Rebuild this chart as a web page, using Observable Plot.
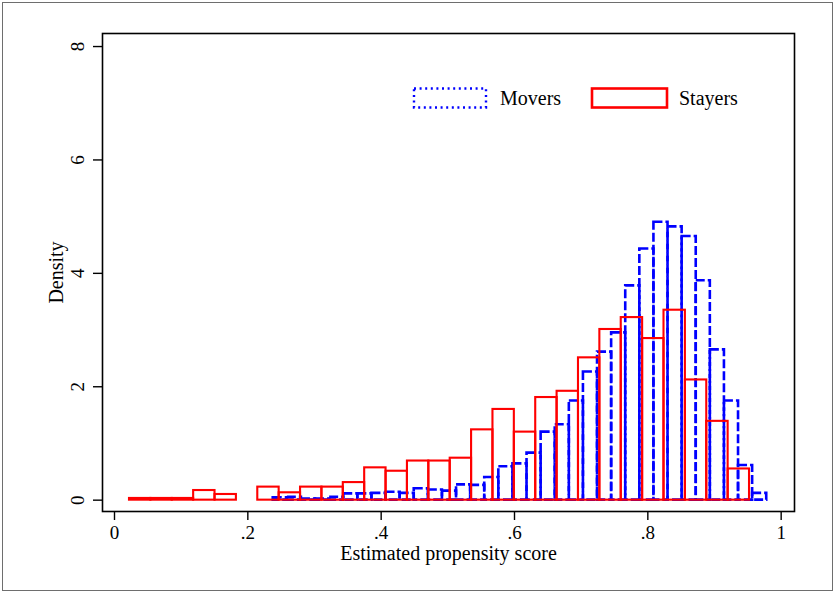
<!DOCTYPE html>
<html>
<head>
<meta charset="utf-8">
<script src="https://cdn.jsdelivr.net/npm/d3@7"></script>
<script src="https://cdn.jsdelivr.net/npm/@observablehq/plot@0.6"></script>
<style>
  html, body { margin: 0; padding: 0; background: #fff; }
  #wrap { position: relative; width: 836px; height: 593px; overflow: hidden; }
  #border { position: absolute; left: 2px; top: 2px; width: 829px; height: 587px; border: 1.6px solid #6e6e6e; pointer-events: none; }
  #legend { position: absolute; left: 0; top: 0; pointer-events: none; }
  svg text { font-family: "Liberation Serif", "Times New Roman", serif; }
</style>
</head>
<body>
<div id="wrap"><div id="border"></div></div>
<script>
// ---- data ----
const seriesNames = ["Movers", "Stayers"];
const seriesColors = ["#0000ff", "#ff0000"];

const moversBinStart = 0.2381;
const moversBinWidth = 0.02115;
const moversDensity = [0.04, 0.05, 0.02, 0.02, 0.05, 0.11, 0.11, 0.12, 0.14, 0.12,
  0.20, 0.18, 0.16, 0.27, 0.26, 0.40, 0.59, 0.64, 0.83, 1.20,
  1.33, 1.75, 2.26, 2.61, 2.95, 3.78, 4.43, 4.90, 4.82, 4.65,
  3.87, 2.65, 1.75, 0.61, 0.12];

const stayersBinStart = 0.0225;
const stayersBinWidth = 0.03207;
const stayersDensity = [0.03, 0.03, 0.03, 0.17, 0.10, 0, 0.23, 0.13, 0.23, 0.23,
  0.31, 0.57, 0.51, 0.69, 0.69, 0.74, 1.24, 1.60, 1.20, 1.81,
  1.92, 2.51, 3.01, 3.22, 2.85, 3.35, 2.12, 1.39, 0.55];

const xTicks = [0, 0.2, 0.4, 0.6, 0.8, 1];
const xTickLabels = ["0", ".2", ".4", ".6", ".8", "1"];
const yTicks = [0, 2, 4, 6, 8];
const xTitle = "Estimated propensity score";
const yTitle = "Density";

// ---- build bins ----
function bins(start, width, dens) {
  return dens.map((d, i) => ({x1: start + i * width, x2: start + (i + 1) * width, d}));
}
const movers = bins(moversBinStart, moversBinWidth, moversDensity);
const stayers = bins(stayersBinStart, stayersBinWidth, stayersDensity);

const font = "Liberation Serif";
const chart = Plot.plot({
  width: 836,
  height: 593,
  marginLeft: 102,
  marginRight: 42,
  marginTop: 33,
  marginBottom: 82,
  style: {fontFamily: font, background: "transparent"},
  x: {domain: [-0.018, 1.02]},
  y: {domain: [-0.2, 8.23]},
  marks: [
    Plot.rect(movers, {x1: "x1", x2: "x2", y1: 0, y2: "d", fill: "none",
      stroke: seriesColors[0], strokeWidth: 2.6, strokeDasharray: "9,3"}),
    Plot.rect(stayers, {x1: "x1", x2: "x2", y1: 0, y2: "d", fill: "none",
      stroke: seriesColors[1], strokeWidth: 2.1}),
    Plot.frame({stroke: "black", strokeWidth: 1.6}),
    Plot.axisX({ticks: xTicks, tickFormat: (d) => xTickLabels[xTicks.indexOf(d)],
      tickSize: 9, tickPadding: 5, fontSize: 19, label: null, stroke: "black", strokeWidth: 1.4}),
    Plot.axisY({ticks: yTicks, tickSize: 9, tickPadding: 10, tickRotate: -90,
      fontSize: 19, label: null, stroke: "black", strokeWidth: 1.4}),
    Plot.text([xTitle], {frameAnchor: "bottom", dy: 42, lineAnchor: "middle", textAnchor: "middle",
      fontSize: 20, fill: "black", text: d => d}),
    Plot.text([yTitle], {frameAnchor: "left", dx: -46, rotate: -90, lineAnchor: "middle", textAnchor: "middle",
      fontSize: 20, fill: "black", text: d => d})
  ]
});
document.getElementById("wrap").prepend(chart);

// ---- legend (inside plot region, upper right) ----
const leg = d3.select("#wrap").append("svg")
  .attr("id", "legend").attr("width", 836).attr("height", 593);
const items = [
  {x: 414, w: 72, dash: "2,3.6", sw: 2.4, tx: 500},
  {x: 592, w: 75, dash: null, sw: 2.6, tx: 679}
];
items.forEach((it, i) => {
  leg.append("rect").attr("x", it.x).attr("y", 88.5).attr("width", it.w).attr("height", 19)
    .attr("fill", "none").attr("stroke", seriesColors[i]).attr("stroke-width", it.sw)
    .attr("stroke-dasharray", it.dash);
  leg.append("text").attr("x", it.tx).attr("y", 98).attr("dy", "0.35em")
    .attr("font-size", 20).attr("fill", "black").text(seriesNames[i]);
});
</script>
</body>
</html>
